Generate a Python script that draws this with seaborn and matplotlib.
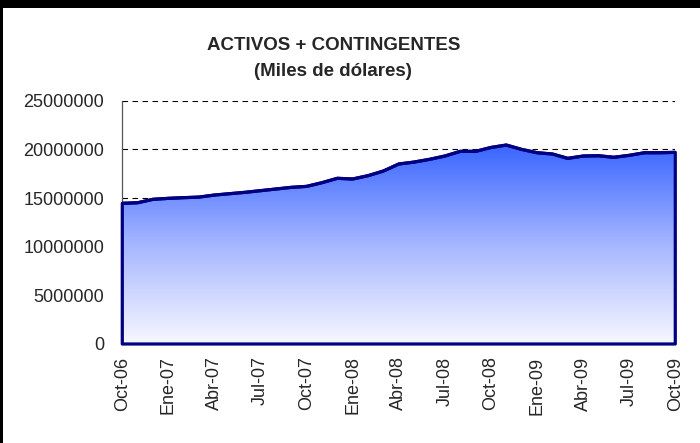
import numpy as np
import matplotlib
matplotlib.use("Agg")
import matplotlib.pyplot as plt
from matplotlib.colors import LinearSegmentedColormap
from matplotlib.ticker import FuncFormatter
import seaborn as sns

# ── data (miles de dólares), monthly Oct-06 .. Oct-09 ─────────────────────
month_names = ["Oct", "Nov", "Dic", "Ene", "Feb", "Mar", "Abr", "May",
               "Jun", "Jul", "Ago", "Sep"]
months = [f"{month_names[i % 12]}-{(6 + (i + 9) // 12):02d}" for i in range(37)]
values = [14460000, 14520000, 14870000, 14970000, 15040000, 15100000,
          15310000, 15450000, 15590000, 15760000, 15930000, 16100000,
          16200000, 16580000, 17030000, 16960000, 17300000, 17780000,
          18500000, 18700000, 18980000, 19320000, 19800000, 19800000,
          20200000, 20450000, 20000000, 19660000, 19530000, 19080000,
          19320000, 19350000, 19190000, 19390000, 19660000, 19660000,
          19700000]
y_ticks = [0, 5000000, 10000000, 15000000, 20000000, 25000000]

sns.set_style("white")
plt.rcParams["font.family"] = ["Liberation Sans", "DejaVu Sans"]

fig = plt.figure(figsize=(7, 4.43), dpi=100, facecolor="white")
ax = fig.add_axes([0.1747, 0.2235, 0.79, 0.549])
ax.set_facecolor("white")

x = np.arange(len(values))
vals = np.array(values, dtype=float)

# dashed gridlines behind the area
for yv in y_ticks[1:]:
    ax.axhline(yv, color="black", linestyle=(0, (5, 4)), linewidth=0.8, zorder=1)

# gradient fill clipped to the area
cmap = LinearSegmentedColormap.from_list("g", ["#f8f8ff", "#a6b6ff", "#3a66ff"])
grad = np.linspace(0, 1, 256).reshape(-1, 1)
im = ax.imshow(grad, extent=[x[0], x[-1], 0, vals.max()], origin="lower",
               aspect="auto", cmap=cmap, zorder=2)
outline = ax.fill_between(x, vals, 0, facecolor="none", edgecolor="#000080",
                          linewidth=2.3, zorder=3, clip_on=False)
im.set_clip_path(outline.get_paths()[0], ax.transData)
sns.lineplot(x=x, y=vals, ax=ax, color="#000080", linewidth=2.3, zorder=4)

ax.set_xlim(0, len(values) - 1)
ax.set_ylim(0, 25000000)
ax.set_yticks(y_ticks)
ax.yaxis.set_major_formatter(FuncFormatter(lambda v, p: f"{int(v)}"))
ax.set_xticks(x)
ax.set_xticklabels([m if i % 3 == 0 else "" for i, m in enumerate(months)],
                   rotation=90)
ax.tick_params(axis="both", direction="out", length=5, width=0.8,
               color="#333333", labelsize=13)
ax.tick_params(axis="y", pad=8)
ax.tick_params(axis="x", pad=4)

for s in ["top", "right", "bottom"]:
    ax.spines[s].set_visible(False)
ax.spines["left"].set_color("#555555")
ax.spines["left"].set_linewidth(0.9)
ax.set_xlabel("")
ax.set_ylabel("")

fig.text(0.476, 0.868, "ACTIVOS + CONTINGENTES\n(Miles de dólares)",
         ha="center", va="center", fontsize=13.5, fontweight="bold",
         linespacing=1.75)

# frame: thick black band on top, thin line on the left (solid-filled axes)
for rect in ([0, 1 - 8 / 443, 1, 8 / 443], [0, 0, 2.5 / 700, 1]):
    band = fig.add_axes(rect)
    band.set_facecolor("black")
    band.set_xticks([])
    band.set_yticks([])
    for sp in band.spines.values():
        sp.set_visible(False)

fig.savefig("out.png", dpi=100, facecolor="white")
